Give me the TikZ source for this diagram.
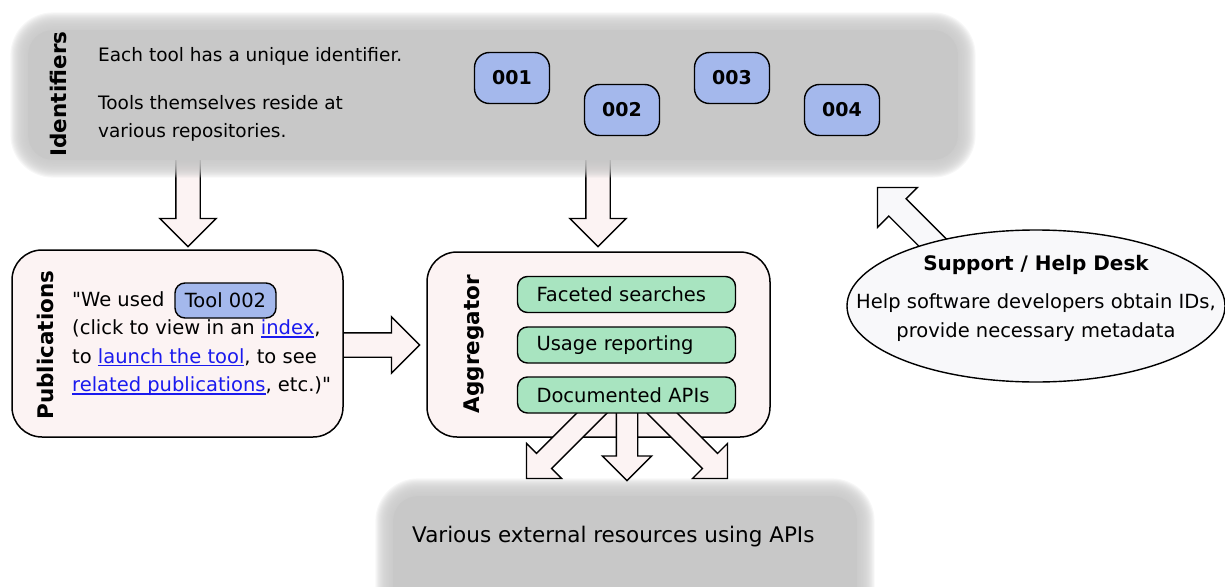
\documentclass[tikz,border=0pt]{standalone}
\usepackage{fontspec}
\setmainfont{DejaVu Sans}[Ligatures=TeXOff]
\usetikzlibrary{shapes.geometric,shapes.arrows,calc}

\definecolor{panelgray}{HTML}{C8C8C8}
\definecolor{boxpink}{HTML}{FCF3F3}
\definecolor{idblue}{HTML}{A4B8EC}
\definecolor{apigreen}{HTML}{A8E4C0}
\definecolor{deskwhite}{HTML}{F8F8FA}
\definecolor{linkblue}{HTML}{1A1AEE}

\newsavebox{\lnkbox}
\newcommand{\lnk}[1]{{\color{linkblue}\sbox{\lnkbox}{#1}\rlap{\rule[-3pt]{\wd\lnkbox}{1.2pt}}\usebox{\lnkbox}}}

\tikzset{pnl/.style = {rectangle, rounded corners=25pt, fill=panelgray, inner sep=0pt},
         bx/.style  = {rectangle, rounded corners=30pt, draw, line width=1.5pt, fill=boxpink, inner sep=0pt},
         idn/.style = {rectangle, rounded corners=15pt, draw, line width=1.4pt, fill=idblue, minimum width=75pt, minimum height=51pt, font=\bfseries\fontsize{19}{23}\selectfont},
         grn/.style = {rectangle, rounded corners=10pt, draw, line width=1.4pt, fill=apigreen, minimum height=36pt, text width=180pt, inner xsep=19pt, align=left, font=\fontsize{19.5}{23}\selectfont},
         ttl/.style = {rotate=90, inner sep=0pt, font=\bfseries\fontsize{21.5}{26}\selectfont},
         txt/.style = {inner sep=0pt, align=left, font=\fontsize{19.5}{28.5}\selectfont},
         halo/.style = {panelgray, fill opacity=0.15},
         barrow/.style = {single arrow, draw, line width=1.4pt, fill=boxpink, inner sep=0pt, inner ysep=11.5pt, single arrow head extend=16pt},
         bar/.style = {to path={let \p1=($(\tikztotarget)-(\tikztostart)$) in node[barrow, #1, rotate={atan2(\y1,\x1)}, minimum height={veclen(\x1,\y1)}, anchor=tail] at (\tikztostart) {}}},
         bar/.default = {}}

\begin{document}
\begin{tikzpicture}[x=1pt, y=-1pt]
    \useasboundingbox (0,0) rectangle (1225,586);
    \coordinate (a1) at (188,150); \coordinate (a1e) at (188,246);
    \coordinate (a2) at (598,150); \coordinate (a2e) at (598,246);
    \path (a1) to[bar] (a1e);
    \path (a2) to[bar] (a2e);
    % identifiers panel, soft edge
    \foreach \k in {1,...,16}
        \fill[halo, rounded corners=25+1.1*\k] (28-1.1*\k,30-1.1*\k) rectangle (958+1.1*\k,160+1.1*\k);
    \node[pnl, minimum width=930pt, minimum height=130pt] (ids) at (493,95) {};
    \node[ttl] (idt) at (58,94) {Identifiers};
    \node[txt, font=\fontsize{18.5}{28}\selectfont, anchor=north west] (idtx) at (98,47) {Each tool has a unique identifier.\\[20pt]Tools themselves reside at\\various repositories.};
    \node[idn] (id1) at (512,78) {001};
    \node[idn] (id2) at (622,110) {002};
    \node[idn] (id3) at (732,78) {003};
    \node[idn] (id4) at (842,110) {004};
    % external resources panel
    \foreach \k in {1,...,16}
        \fill[halo, rounded corners=25+1.1*\k] (393-1.1*\k,496-1.1*\k) rectangle (857+1.1*\k,620+1.1*\k);
    \node[pnl, minimum width=464pt, minimum height=124pt] (ext) at (625,558) {};
    \node[txt, font=\fontsize{21.5}{26}\selectfont, anchor=base west] (extx) at (412,542) {Various external resources using APIs};
    % help desk
    \coordinate (s1) at (945,255); \coordinate (s1e) at (878,188);
    \path (s1) to[bar={fill=deskwhite}] (s1e);
    \node[ellipse, draw, line width=1.4pt, fill=deskwhite, minimum width=378pt, minimum height=152pt] (desk) at (1036,306) {};
    \node[txt, align=center] (desktx) at ($(desk.center)+(0,-8)$) {{\bfseries\fontsize{20}{24}\selectfont Support / Help Desk}\\[10pt]Help software developers obtain IDs,\\provide necessary metadata};
    % publications
    \coordinate (p1) at (338,345); \coordinate (p1e) at (419,345);
    \path (p1) to[bar] (p1e);
    \node[bx, minimum width=331pt, minimum height=187pt] (pub) at (177.5,343.5) {};
    \node[ttl] (pubt) at (45,345) {Publications};
    \node[txt, anchor=north west] (pubtx) at (72,291) {"We used \hspace{110pt}\\(click to view in an \lnk{index},\\to \lnk{launch the tool}, to see\\\lnk{related publications}, etc.)"};
    \node[idn, font=\fontsize{19.5}{23}\selectfont, minimum width=101pt, minimum height=35pt, rounded corners=10pt] (tool) at (225.5,300.5) {Tool 002};
    % aggregator
    \node[bx, minimum width=343pt, minimum height=185pt] (agg) at (598.5,344.5) {};
    \node[ttl] (aggt) at (474,344) {Aggregator};
    \coordinate (b1) at (602,403); \coordinate (b1e) at (527,478);
    \coordinate (b2) at (627,403); \coordinate (b2e) at (627,480);
    \coordinate (b3) at (652,403); \coordinate (b3e) at (727,478);
    \path (b1) to[bar={inner ysep=10pt, single arrow head extend=14pt}] (b1e);
    \path (b2) to[bar={inner ysep=10pt, single arrow head extend=14pt}] (b2e);
    \path (b3) to[bar={inner ysep=10pt, single arrow head extend=14pt}] (b3e);
    \node[grn] (fac) at (626.5,294.5) {Faceted searches};
    \node[grn] (use) at (626.5,345) {Usage reporting};
    \node[grn] (doc) at (626.5,395) {Documented APIs};
\end{tikzpicture}
\end{document}
